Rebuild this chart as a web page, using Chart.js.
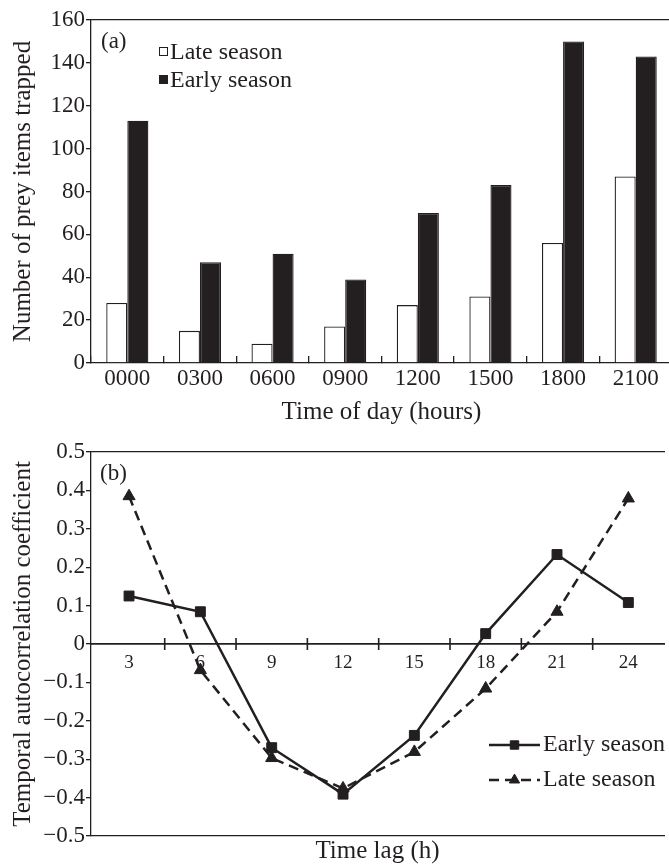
<!DOCTYPE html>
<html>
<head>
<meta charset="utf-8">
<script src="https://cdn.jsdelivr.net/npm/chart.js@4.4.1/dist/chart.umd.min.js"></script>
<style>
html, body { margin: 0; padding: 0; background: #fff; overflow: hidden; width: 669px; height: 866px; }
#chartA { position: absolute; left: 0; top: 0; }
#chartB { position: absolute; left: 0; top: 430px; }
</style>
</head>
<body>
<canvas id="chartA" width="672" height="430"></canvas>
<canvas id="chartB" width="672" height="436"></canvas>
<script>
// panel (a): prey items trapped per time of day
var hours = ['0000', '0300', '0600', '0900', '1200', '1500', '1800', '2100'];
var lateCounts = [28, 15, 9, 17, 27, 31, 56, 87];
var earlyCounts = [113, 47, 51, 39, 70, 83, 150, 143];

// panel (b): temporal autocorrelation by time lag
var lags = [3, 6, 9, 12, 15, 18, 21, 24];
var earlyCoef = [0.125, 0.084, -0.27, -0.391, -0.238, 0.027, 0.233, 0.108];
var lateCoef = [0.385, -0.068, -0.297, -0.376, -0.281, -0.116, 0.084, 0.379];

var ink = '#231f20';
var serif = "'Liberation Serif', 'Times New Roman', serif";
Chart.defaults.font.family = serif;
Chart.defaults.color = ink;

function minusLabel(v) {
	if (Math.abs(v) < 1e-9) return '0';
	var s = Math.abs(v).toFixed(1);
	return v < 0 ? '\u2212' + s : s;
}

// panel letter + legend for the bar chart
var legendA = {
	id: 'legendA',
	afterDraw: function(chart) {
		var ctx = chart.ctx, a = chart.chartArea;
		ctx.save();
		ctx.textBaseline = 'middle';
		ctx.fillStyle = ink;
		ctx.font = '23px ' + serif;
		ctx.fillText('(a)', a.left + 10, a.top + 22);
		ctx.font = '24px ' + serif;
		chart.data.datasets.forEach(function(ds, i) {
			var y = a.top + 33 + i * 28;
			ctx.fillStyle = ds.backgroundColor;
			ctx.strokeStyle = ds.borderColor;
			ctx.lineWidth = 1;
			ctx.fillRect(a.left + 68.5, y - 5.5, 8, 8);
			ctx.strokeRect(a.left + 68.5, y - 5.5, 8, 8);
			ctx.fillStyle = ink;
			ctx.fillText(ds.label, a.left + 79, y);
		});
		ctx.restore();
	}
};

// ticks crossing the zero line between lags, plus panel letter + legend
var legendB = {
	id: 'legendB',
	afterDraw: function(chart) {
		var ctx = chart.ctx, a = chart.chartArea;
		var xs = chart.scales.x, ys = chart.scales.y;
		var y0 = ys.getPixelForValue(0);
		ctx.save();
		ctx.strokeStyle = ink;
		ctx.lineWidth = 1.6;
		for (var i = 0; i < lags.length - 1; i++) {
			var px = xs.getPixelForValue((lags[i] + lags[i + 1]) / 2);
			ctx.beginPath();
			ctx.moveTo(px, y0 - 6);
			ctx.lineTo(px, y0 + 6);
			ctx.stroke();
		}

		ctx.textBaseline = 'middle';
		ctx.fillStyle = ink;
		ctx.font = '23px ' + serif;
		ctx.fillText('(b)', a.left + 9, a.top + 22);

		ctx.font = '24px ' + serif;
		chart.data.datasets.forEach(function(ds, i) {
			var y = a.bottom - 91 + i * 35;
			var x0 = a.left + 398, x1 = a.left + 449;
			ctx.strokeStyle = ds.borderColor;
			ctx.lineWidth = ds.borderWidth;
			ctx.setLineDash(ds.borderDash || []);
			ctx.beginPath();
			ctx.moveTo(x0, y);
			ctx.lineTo(x1, y);
			ctx.stroke();
			ctx.setLineDash([]);
			ctx.fillStyle = ds.backgroundColor;
			ctx.lineWidth = 1;
			Chart.helpers.drawPoint(ctx, { pointStyle: ds.pointStyle, radius: ds.pointRadius * 0.85, rotation: 0, borderWidth: 1 }, (x0 + x1) / 2, y);
			ctx.fillStyle = ink;
			ctx.fillText(ds.label, x1 + 3, y);
		});
		ctx.restore();
	}
};

new Chart(document.getElementById('chartA'), {
	type: 'bar',
	data: {
		labels: hours,
		datasets: [
			{
				label: 'Late season',
				data: lateCounts,
				backgroundColor: '#ffffff',
				borderColor: ink,
				borderWidth: 1.3,
				categoryPercentage: 0.58,
				barPercentage: 1
			},
			{
				label: 'Early season',
				data: earlyCounts,
				backgroundColor: ink,
				borderColor: ink,
				borderWidth: 1.3,
				categoryPercentage: 0.58,
				barPercentage: 1
			}
		]
	},
	options: {
		responsive: false,
		animation: false,
		layout: { padding: { top: 20, left: 0, right: 0, bottom: 0 } },
		plugins: { legend: { display: false }, tooltip: { enabled: false } },
		scales: {
			x: {
				grid: { display: true, drawOnChartArea: false, offset: true, tickLength: -7, color: ink, lineWidth: 1.3 },
				border: { color: ink, width: 1.3 },
				ticks: { font: { size: 23 }, padding: 9, maxRotation: 0, color: ink },
				title: { display: true, text: 'Time of day (hours)', font: { size: 25 }, color: ink, padding: { top: 0, bottom: 3 } },
				afterFit: function(s) { s.height = 67; }
			},
			xTop: {
				axis: 'x',
				position: 'top',
				grid: { display: false },
				ticks: { display: false },
				border: { color: ink, width: 1.3 },
				afterFit: function(s) { s.height = 0; }
			},
			y: {
				min: 0,
				max: 160,
				ticks: { stepSize: 20, font: { size: 23 }, padding: 1, color: ink },
				grid: { drawOnChartArea: false, tickLength: 5, color: ink, lineWidth: 1.3 },
				border: { color: ink, width: 1.3 },
				title: { display: true, text: 'Number of prey items trapped', font: { size: 25 }, color: ink, padding: { top: 8, bottom: 0 } },
				afterFit: function(s) { s.width = 91; }
			}
		}
	},
	plugins: [legendA]
});

new Chart(document.getElementById('chartB'), {
	type: 'line',
	data: {
		datasets: [
			{
				label: 'Early season',
				data: lags.map(function(l, i) { return { x: l, y: earlyCoef[i] }; }),
				borderColor: ink,
				backgroundColor: ink,
				borderWidth: 2.5,
				pointStyle: 'rect',
				pointRadius: 7,
				pointBorderWidth: 1,
				tension: 0
			},
			{
				label: 'Late season',
				data: lags.map(function(l, i) { return { x: l, y: lateCoef[i] }; }),
				borderColor: ink,
				backgroundColor: ink,
				borderWidth: 2.5,
				borderDash: [10, 6],
				pointStyle: 'triangle',
				pointRadius: 7,
				pointBorderWidth: 1,
				tension: 0
			}
		]
	},
	options: {
		responsive: false,
		animation: false,
		layout: { padding: { top: 22, left: 0, right: 0, bottom: 0 } },
		plugins: { legend: { display: false }, tooltip: { enabled: false } },
		scales: {
			x: {
				type: 'linear',
				position: { y: 0 },
				min: 1.4,
				max: 25.5,
				afterBuildTicks: function(s) { s.ticks = lags.map(function(v) { return { value: v }; }); },
				grid: { display: false, drawTicks: false },
				border: { color: ink, width: 1.8 },
				ticks: { font: { size: 19 }, padding: 8, color: ink, maxRotation: 0 }
			},
			xBottom: {
				type: 'linear',
				axis: 'x',
				position: 'bottom',
				grid: { display: false },
				ticks: { display: false },
				border: { color: ink, width: 1.3 },
				title: { display: true, text: 'Time lag (h)', font: { size: 25 }, color: ink, padding: { top: 0, bottom: 0 } },
				afterFit: function(s) { s.height = 30; }
			},
			xTop: {
				type: 'linear',
				axis: 'x',
				position: 'top',
				grid: { display: false },
				ticks: { display: false },
				border: { color: ink, width: 1.3 },
				afterFit: function(s) { s.height = 0; }
			},
			y: {
				min: -0.5,
				max: 0.5,
				ticks: { stepSize: 0.1, font: { size: 23 }, padding: 1, color: ink, callback: minusLabel },
				grid: { drawOnChartArea: false, tickLength: 5, color: ink, lineWidth: 1.3 },
				border: { color: ink, width: 1.3 },
				title: { display: true, text: 'Temporal autocorrelation coefficient', font: { size: 25 }, color: ink, padding: { top: 8, bottom: 0 } },
				afterFit: function(s) { s.width = 91; }
			}
		}
	},
	plugins: [legendB]
});
</script>
</body>
</html>
